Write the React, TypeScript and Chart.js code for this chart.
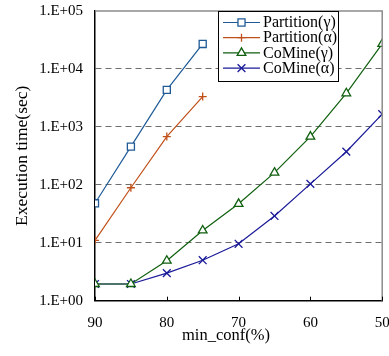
import React, { useEffect, useRef } from "react";
import { Chart, registerables } from "chart.js";

Chart.register(...registerables);

const minConf = [90, 85, 80, 75, 70, 65, 60, 55, 50];
const partitionGamma = [48, 457, 4350, 27000, null, null, null, null, null];
const partitionAlpha = [11, 89, 680, 3330, null, null, null, null, null];
const comineGamma = [1.94, 1.94, 4.9, 16.3, 47, 162, 680, 3800, 27000];
const comineAlpha = [1.94, 1.94, 3.0, 5.0, 9.6, 29, 104, 373, 1660];
const yTickValues = [1, 10, 100, 1000, 10000, 100000];
const yTickLabels = ["1.E+00", "1.E+01", "1.E+02", "1.E+03", "1.E+04", "1.E+05"];
const xTickValues = [90, 80, 70, 60, 50];
const seriesNames = ["Partition(γ)", "Partition(α)", "CoMine(γ)", "CoMine(α)"];

const FONT = "'Liberation Serif', 'Times New Roman', serif";

const toPoints = (arr: (number | null)[]) =>
  minConf.map((x, i) => ({ x, y: arr[i] })).filter((p) => p.y !== null);

function drawMarker(ctx: CanvasRenderingContext2D, style: string, x: number, y: number, r: number, color: string) {
  ctx.save();
  ctx.strokeStyle = color;
  ctx.fillStyle = "#fff";
  ctx.lineWidth = 1.3;
  ctx.beginPath();
  if (style === "rect") {
    const s = r * Math.SQRT1_2;
    ctx.rect(x - s, y - s, 2 * s, 2 * s);
    ctx.fill();
    ctx.stroke();
  } else if (style === "triangle") {
    const a = Math.PI / 2;
    ctx.moveTo(x + Math.cos(-a) * r, y + Math.sin(-a) * r);
    ctx.lineTo(x + Math.cos(-a + (2 * Math.PI) / 3) * r, y + Math.sin(-a + (2 * Math.PI) / 3) * r);
    ctx.lineTo(x + Math.cos(-a + (4 * Math.PI) / 3) * r, y + Math.sin(-a + (4 * Math.PI) / 3) * r);
    ctx.closePath();
    ctx.fill();
    ctx.stroke();
  } else if (style === "cross") {
    ctx.moveTo(x - r, y);
    ctx.lineTo(x + r, y);
    ctx.moveTo(x, y - r);
    ctx.lineTo(x, y + r);
    ctx.stroke();
  } else {
    const s = r * Math.SQRT1_2;
    ctx.moveTo(x - s, y - s);
    ctx.lineTo(x + s, y + s);
    ctx.moveTo(x - s, y + s);
    ctx.lineTo(x + s, y - s);
    ctx.stroke();
  }
  ctx.restore();
}

const framePlugin = {
  id: "frame",
  afterDraw(chart: any) {
    const { ctx, chartArea } = chart;
    const { left, right, top, bottom } = chartArea;
    ctx.save();
    ctx.strokeStyle = "#8c8c8c";
    ctx.lineWidth = 1.5;
    ctx.beginPath();
    ctx.moveTo(left, top);
    ctx.lineTo(right, top);
    ctx.lineTo(right, bottom);
    ctx.stroke();
    const xs = chart.scales.x;
    ctx.strokeStyle = "#000";
    ctx.lineWidth = 1;
    xTickValues.forEach((v) => {
      const px = Math.round(xs.getPixelForValue(v)) + 0.5;
      ctx.beginPath();
      ctx.moveTo(px, bottom);
      ctx.lineTo(px, bottom - 4);
      ctx.stroke();
    });
    ctx.fillStyle = "#000";
    ctx.font = `16.5px ${FONT}`;
    ctx.textAlign = "center";
    ctx.textBaseline = "middle";
    ctx.fillText("min_conf(%)", 226, 336);

    const lx = 218.5, ly = 11.5, lw = 120, lh = 70;
    ctx.fillStyle = "#fff";
    ctx.fillRect(lx, ly, lw, lh);
    ctx.strokeStyle = "#000";
    ctx.lineWidth = 1;
    ctx.strokeRect(lx, ly, lw, lh);
    chart.data.datasets.forEach((ds: any, i: number) => {
      const y = 22.5 + i * 15.2;
      ctx.strokeStyle = ds.borderColor;
      ctx.lineWidth = 1.2;
      ctx.beginPath();
      ctx.moveTo(223, y);
      ctx.lineTo(260, y);
      ctx.stroke();
      drawMarker(ctx, ds.pointStyle, 241.5, y, ds.pointRadius, ds.borderColor);
      ctx.fillStyle = "#000";
      ctx.font = `16px ${FONT}`;
      ctx.textAlign = "left";
      ctx.textBaseline = "middle";
      ctx.fillText(seriesNames[i], 263, y + 0.5);
    });
    ctx.restore();
  },
};

export default function App() {
  const ref = useRef<HTMLCanvasElement>(null);
  useEffect(() => {
    if (!ref.current) return;
    const mk = (data: (number | null)[], color: string, style: string, radius: number) => ({
      data: toPoints(data),
      borderColor: color,
      backgroundColor: "#fff",
      borderWidth: 1.2,
      pointStyle: style,
      pointRadius: radius,
      pointBorderWidth: 1.3,
      pointBackgroundColor: "#fff",
      pointBorderColor: color,
      tension: 0,
    });
    const chart = new Chart(ref.current, {
      type: "line",
      data: {
        datasets: [
          mk(partitionGamma, "#1f5a96", "rect", 5),
          mk(partitionAlpha, "#c0501a", "cross", 4),
          mk(comineGamma, "#0f5f0f", "triangle", 5),
          mk(comineAlpha, "#1a1a99", "crossRot", 5.5),
        ] as any,
      },
      options: {
        animation: false,
        responsive: false,
        devicePixelRatio: 1,
        layout: { padding: { top: 11, right: 6, left: 0, bottom: 0 } },
        plugins: { legend: { display: false }, tooltip: { enabled: false } },
        scales: {
          x: {
            type: "linear",
            reverse: true,
            min: 50,
            max: 90,
            afterFit: (s: any) => {
              s.height = 55.3;
              s.paddingLeft = 0;
              s.paddingRight = 0;
            },
            afterBuildTicks: (s: any) => {
              s.ticks = xTickValues.map((v) => ({ value: v }));
            },
            ticks: {
              font: { family: FONT, size: 15 },
              color: "#000",
              padding: 13,
              maxRotation: 0,
              autoSkip: false,
            },
            grid: { display: false, drawTicks: false },
            border: { display: true, color: "#000", width: 1.5 },
          },
          y: {
            type: "logarithmic",
            min: 1,
            max: 100000,
            afterFit: (s: any) => {
              s.width = 95;
              s.paddingTop = 0;
              s.paddingBottom = 0;
            },
            afterBuildTicks: (s: any) => {
              s.ticks = yTickValues.map((v) => ({ value: v }));
            },
            ticks: {
              font: { family: FONT, size: 15 },
              color: "#000",
              padding: 12,
              autoSkip: false,
              callback: (v: any) => yTickLabels[yTickValues.indexOf(Number(v))] ?? "",
            },
            grid: {
              drawTicks: false,
              lineWidth: 1,
              color: (c: any) =>
                c.tick && (c.tick.value === 1 || c.tick.value === 100000) ? "rgba(0,0,0,0)" : "#6e6e6e",
            },
            border: { display: true, color: "#000", width: 1.5, dash: [6, 4] },
            title: {
              display: true,
              text: "Execution time(sec)",
              font: { family: FONT, size: 17.5 },
              color: "#000",
              padding: { top: 11.5, bottom: 0 },
            },
          },
        },
      },
      plugins: [framePlugin],
    });
    return () => chart.destroy();
  }, []);
  return (
    <div style={{ position: "absolute", left: 0, top: 0, width: 389, height: 356 }}>
      <canvas ref={ref} width={389} height={356} style={{ width: 389, height: 356 }} />
    </div>
  );
}
